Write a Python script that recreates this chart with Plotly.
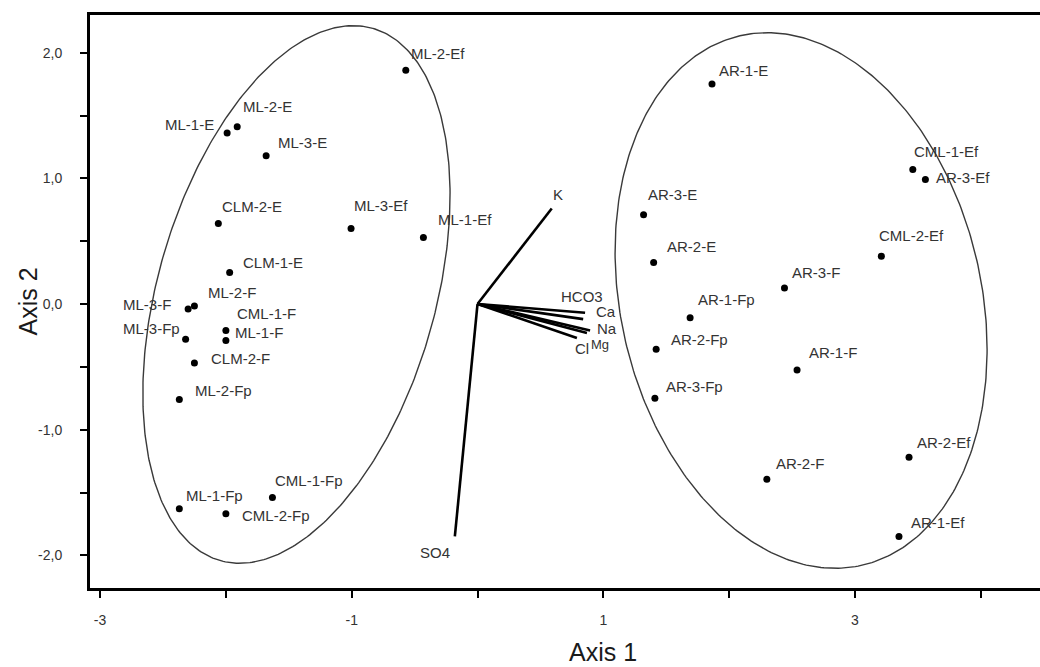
import numpy as np
import plotly.graph_objects as go

# ---- sample scores (Axis 1, Axis 2) ----
sample_names = [
    "ML-2-Ef", "ML-1-E", "ML-2-E", "ML-3-E", "CLM-2-E", "ML-3-Ef", "ML-1-Ef",
    "CLM-1-E", "ML-2-F", "ML-3-F", "ML-3-Fp", "CML-1-F", "ML-1-F", "CLM-2-F",
    "ML-2-Fp", "ML-1-Fp", "CML-2-Fp", "CML-1-Fp",
    "AR-1-E", "CML-1-Ef", "AR-3-Ef", "CML-2-Ef", "AR-3-F", "AR-1-Fp", "AR-3-E",
    "AR-2-E", "AR-2-Fp", "AR-3-Fp", "AR-1-F", "AR-2-F", "AR-2-Ef", "AR-1-Ef",
]
axis1 = [
    -0.57, -1.99, -1.91, -1.68, -2.06, -1.005, -0.43,
    -1.97, -2.25, -2.30, -2.32, -2.00, -2.00, -2.25,
    -2.37, -2.37, -2.00, -1.63,
    1.864, 3.46, 3.56, 3.21, 2.44, 1.69, 1.32,
    1.40, 1.42, 1.41, 2.54, 2.30, 3.43, 3.35,
]
axis2 = [
    1.86, 1.36, 1.41, 1.18, 0.64, 0.60, 0.53,
    0.25, -0.016, -0.04, -0.28, -0.21, -0.29, -0.47,
    -0.76, -1.63, -1.67, -1.54,
    1.75, 1.07, 0.99, 0.38, 0.127, -0.11, 0.71,
    0.33, -0.36, -0.75, -0.525, -1.395, -1.22, -1.85,
]

# ---- variable vectors (from origin) ----
var_names = ["K", "SO4", "HCO3", "Ca", "Na", "Mg", "Cl"]
var_ax1 = [0.59, -0.18, 0.855, 0.84, 0.895, 0.87, 0.79]
var_ax2 = [0.76, -1.85, -0.07, -0.12, -0.21, -0.23, -0.27]

# ---- group ellipses: centre x, centre y, semi-major, semi-minor, angle(deg) ----
ell_cx = [-1.439, 2.572]
ell_cy = [0.076, 0.028]
ell_a = [2.203, 2.162]
ell_b = [1.102, 1.433]
ell_ang = [74.0, 103.0]

# ---- axis ticks ----
x_tickvals = [-3, -2, -1, 0, 1, 2, 3, 4]
x_ticktext = ["-3", "", "-1", "", "1", "", "3", ""]
y_tickvals = [-2.0, -1.5, -1.0, -0.5, 0.0, 0.5, 1.0, 1.5, 2.0]
y_ticktext = ["-2,0", "", "-1,0", "", "0,0", "", "1,0", "", "2,0"]

# ---- label placement (styling, pixels) ----
lab_anchor = ["left", "right", "left", "left", "left", "left", "left",
              "left", "left", "right", "right", "left", "left", "left",
              "left", "left", "left", "left",
              "left", "left", "left", "left", "left", "left", "left",
              "left", "left", "left", "left", "left", "left", "left"]
lab_dx = [4, -12, 5, 11, 3, 2, 14,
          12, 13, -16, -5, 10, 8, 16,
          15, 6, 15, 2,
          6, 0, 10, -3, 7, 7, 3,
          12, 14, 10, 11, 8, 7, 11]
lab_dy = [17, 9, 20, 13, 17, 23, 18,
          10, 14, 5, 11, 17, 8, 5,
          9, 13, -2, 17,
          14, 18, 2, 21, 16, 18, 20,
          16, 10, 12, 17, 16, 15, 14]
var_dx = [6, -20, -3, 23, 17, 13, 5]
var_dy = [14, -16, 16, 8, 2, -12, -11]
var_fs = [15, 15, 15, 15, 15, 13, 15]

FONT = "Liberation Sans, Arial, sans-serif"
TXT = "#333333"

fig = go.Figure()

# ellipses
t = np.linspace(0, 2 * np.pi, 400)
for cx, cy, a, b, ang in zip(ell_cx, ell_cy, ell_a, ell_b, ell_ang):
    th = np.deg2rad(ang)
    ex = cx + a * np.cos(t) * np.cos(th) - b * np.sin(t) * np.sin(th)
    ey = cy + a * np.cos(t) * np.sin(th) + b * np.sin(t) * np.cos(th)
    fig.add_trace(go.Scatter(x=ex, y=ey, mode="lines",
                             line=dict(color="#3a3a3a", width=1.4),
                             hoverinfo="skip", showlegend=False))

# vectors
for vx, vy in zip(var_ax1, var_ax2):
    fig.add_trace(go.Scatter(x=[0, vx], y=[0, vy], mode="lines",
                             line=dict(color="black", width=2.6),
                             hoverinfo="skip", showlegend=False))

# sample points
fig.add_trace(go.Scatter(x=axis1, y=axis2, mode="markers",
                         marker=dict(color="black", size=7),
                         text=sample_names, showlegend=False))

annotations = []
for n, x, y, anc, dx, dy in zip(sample_names, axis1, axis2, lab_anchor, lab_dx, lab_dy):
    annotations.append(dict(x=x, y=y, xref="x", yref="y", text=n, showarrow=False,
                            xanchor=anc, yanchor="middle", xshift=dx, yshift=dy, borderpad=0,
                            font=dict(family=FONT, size=15, color=TXT)))
for n, x, y, dx, dy, fs in zip(var_names, var_ax1, var_ax2, var_dx, var_dy, var_fs):
    annotations.append(dict(x=x, y=y, xref="x", yref="y", text=n, showarrow=False,
                            xanchor="center", yanchor="middle", xshift=dx, yshift=dy, borderpad=0,
                            font=dict(family=FONT, size=fs, color=TXT)))
# axis titles
annotations.append(dict(x=1, y=0, xref="x", yref="paper", text="Axis 1", showarrow=False,
                        xanchor="center", yanchor="middle", yshift=-64,
                        font=dict(family=FONT, size=25, color="#1a1a1a")))
annotations.append(dict(x=0, y=0.5, xref="paper", yref="paper", text="Axis 2", showarrow=False,
                        xanchor="center", yanchor="middle", xshift=-63, textangle=-90,
                        font=dict(family=FONT, size=25, color="#1a1a1a")))

fig.update_layout(
    width=1040, height=667, autosize=False,
    margin=dict(l=90, r=0, t=15, b=79),
    paper_bgcolor="white", plot_bgcolor="white",
    annotations=annotations,
    xaxis=dict(range=[-3.08, 4.471], showgrid=False, zeroline=False,
               showline=True, linecolor="black", linewidth=3, mirror=True,
               ticks="outside", ticklen=7, tickwidth=2, tickcolor="black",
               tickvals=x_tickvals, ticktext=x_ticktext, ticklabelstandoff=10,
               tickfont=dict(family=FONT, size=14, color=TXT)),
    yaxis=dict(range=[-2.26, 2.30], showgrid=False, zeroline=False,
               showline=True, linecolor="black", linewidth=3,
               ticks="outside", ticklen=7, tickwidth=2, tickcolor="black",
               tickvals=y_tickvals, ticktext=y_ticktext, ticklabelstandoff=15,
               tickfont=dict(family=FONT, size=14, color=TXT)),
)

fig.write_html("out.html")
